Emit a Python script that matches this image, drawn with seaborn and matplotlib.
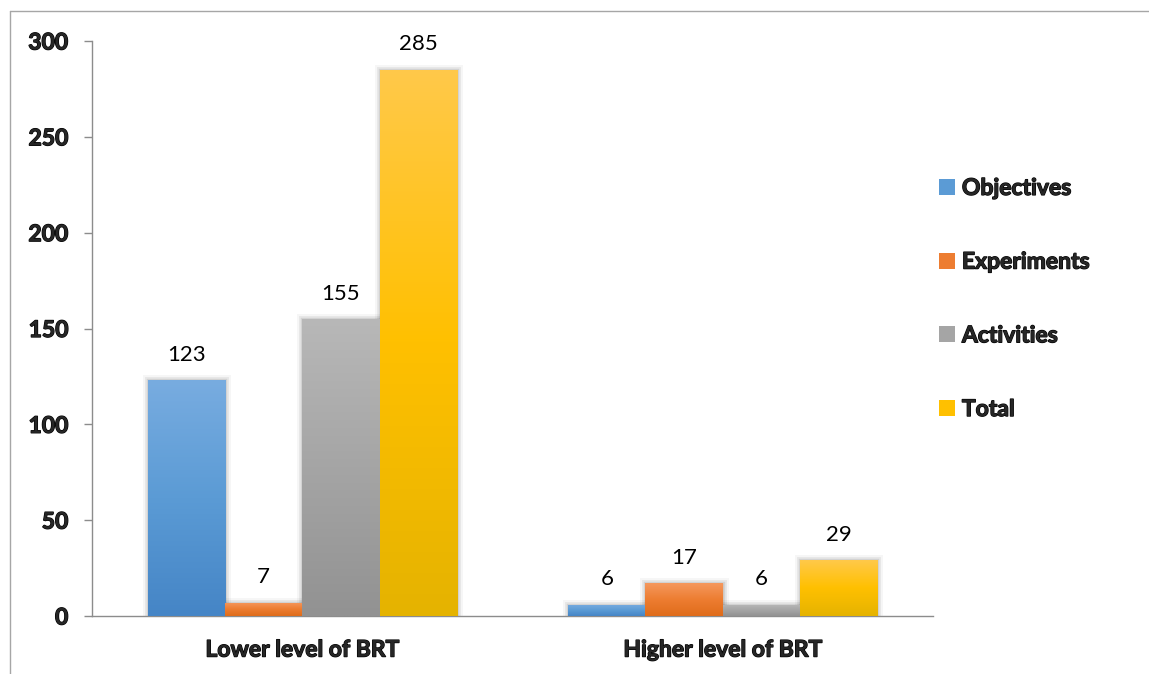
import numpy as np
import pandas as pd
import matplotlib
matplotlib.use("Agg")
import matplotlib.pyplot as plt
import matplotlib.patheffects as pe
from matplotlib.colors import LinearSegmentedColormap
from matplotlib.patches import Patch
from matplotlib.lines import Line2D
import seaborn as sns

# Data
levels = ["Lower level of BRT", "Higher level of BRT"]
series = ["Objectives", "Experiments", "Activities", "Total"]
objectives = [123, 6]
experiments = [7, 17]
activities = [155, 6]
total = [285, 29]
y_ticks = [0, 50, 100, 150, 200, 250, 300]

# Gradient colours per series: (top, middle, bottom)
shades = {
    "Objectives": ("#78ace0", "#5b9bd5", "#4585c6"),
    "Experiments": ("#f5985e", "#ed7d31", "#df6c1a"),
    "Activities": ("#b8b8b8", "#a5a5a5", "#929292"),
    "Total": ("#ffc94a", "#ffc000", "#e5b300"),
}

df = pd.DataFrame({
    "level": levels * 4,
    "item": [s for s in series for _ in levels],
    "count": objectives + experiments + activities + total,
})

sns.set_style("white")
plt.rcParams["font.family"] = ["Lato", "DejaVu Sans"]
# Extra-heavy look for the bold labels
heavy = [pe.withStroke(linewidth=0.9, foreground="black")]

fig = plt.figure(figsize=(11.49, 6.74), dpi=100)
ax = fig.add_axes([92 / 1149, 1 - 616 / 674, (933 - 92) / 1149, (616 - 41) / 674])

sns.barplot(
    data=df, x="level", y="count", hue="item", order=levels, hue_order=series,
    palette=[shades[s][1] for s in series], saturation=1, width=0.735,
    ax=ax, legend=False, errorbar=None,
)

# Soft shadow plus vertical gradient fill for every bar
shadow = [
    pe.Stroke(linewidth=8, foreground="black", alpha=0.035),
    pe.Stroke(linewidth=5, foreground="black", alpha=0.06),
    pe.Stroke(linewidth=2.5, foreground="black", alpha=0.09),
    pe.Normal(),
]
for container, name in zip(ax.containers, series):
    top, mid, bot = shades[name]
    cmap = LinearSegmentedColormap.from_list(name, [bot, mid, top])
    grad = np.linspace(0, 1, 256).reshape(-1, 1)
    for bar in container:
        bar.set_edgecolor("none")
        bar.set_linewidth(0)
        bar.set_path_effects(shadow)
        bar.set_zorder(2)
        x0, y0 = bar.get_x(), bar.get_y()
        w, h = bar.get_width(), bar.get_height()
        im = ax.imshow(grad, cmap=cmap, aspect="auto", origin="lower",
                       extent=[x0, x0 + w, y0, y0 + h], zorder=3,
                       interpolation="bilinear")
        im.set_clip_path(bar)
    ax.bar_label(container, labels=[str(int(b.get_height())) for b in container],
                 padding=11, fontsize=16, color="black", zorder=5)

ax.set_xlim(-0.5, 1.5)
ax.set_ylim(0, 300)
ax.set_yticks(y_ticks)
ax.set_yticklabels([str(t) for t in y_ticks], fontsize=16.5, fontweight="bold")
ax.set_xticks([0, 1])
ax.set_xticklabels(levels, fontsize=16.5, fontweight="bold")
ax.set_xticks([-0.5, 0.5, 1.5], minor=True)
ax.tick_params(axis="x", which="major", length=0, pad=17)
ax.tick_params(axis="x", which="minor", length=6, width=1, color="#8c8c8c", direction="out")
ax.tick_params(axis="y", length=6, width=1, color="#8c8c8c", direction="out", pad=11, left=True)
for lbl in ax.get_xticklabels() + ax.get_yticklabels():
    lbl.set_path_effects(heavy)
ax.set_xlabel("")
ax.set_ylabel("")
for side in ("top", "right"):
    ax.spines[side].set_visible(False)
for side in ("left", "bottom"):
    ax.spines[side].set_color("#8c8c8c")
    ax.spines[side].set_linewidth(1)
ax.grid(False)

handles = [Patch(facecolor=shades[s][1], edgecolor="none") for s in series]
leg = fig.legend(
    handles, series, loc="center left",
    bbox_to_anchor=(939 / 1149, 1 - 299 / 674),
    frameon=False, prop={"weight": "bold", "size": 16.5},
    handlelength=0.7, handleheight=0.7, handletextpad=0.3,
    labelspacing=2.3, borderpad=0, borderaxespad=0,
)
for txt in leg.get_texts():
    txt.set_path_effects(heavy)

# Outer chart border (left and top edges)
fig.add_artist(Line2D([10 / 1149, 10 / 1149], [0, 1 - 11 / 674],
                      transform=fig.transFigure, color="#a6a6a6", lw=1))
fig.add_artist(Line2D([10 / 1149, 1], [1 - 11 / 674, 1 - 11 / 674],
                      transform=fig.transFigure, color="#a6a6a6", lw=1))

fig.savefig("out.png", dpi=100, facecolor="white")
